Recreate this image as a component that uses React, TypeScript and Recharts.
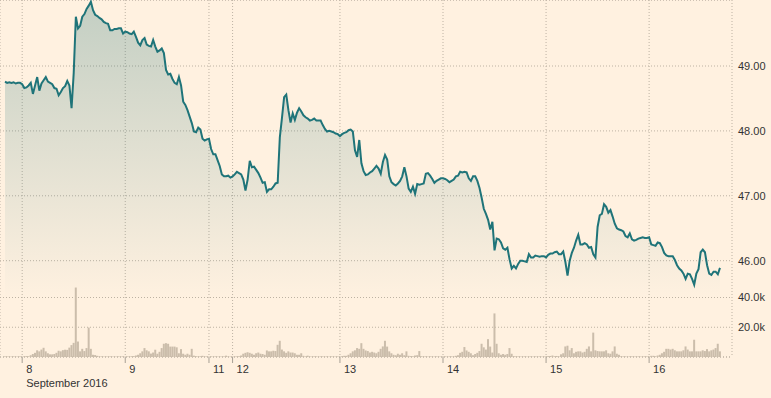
import React from 'react';
import { ComposedChart, Area, Bar, XAxis, YAxis, CartesianGrid, ReferenceLine } from 'recharts';

// half-hour bars, 7 Sep evening -> 16 Sep
const prices = [
  48.76, 48.74, 48.75, 48.74, 48.75, 48.73, 48.74, 48.74, 48.72, 48.66,
  48.67, 48.70, 48.74, 48.57, 48.70, 48.83, 48.62, 48.73, 48.78, 48.83,
  48.76, 48.74, 48.72, 48.66, 48.65, 48.55, 48.60, 48.66, 48.69, 48.77,
  48.70, 48.35, 48.89, 49.76, 49.58, 49.62, 49.76, 49.80, 49.88, 49.93,
  49.99, 49.86, 49.79, 49.77, 49.74, 49.72, 49.68, 49.66, 49.65, 49.55,
  49.55, 49.57, 49.57, 49.58, 49.58, 49.50, 49.53, 49.52, 49.50, 49.49,
  49.53, 49.45, 49.36, 49.32, 49.40, 49.43, 49.33, 49.31, 49.30, 49.40,
  49.30, 49.22, 49.24, 49.27, 49.20, 48.94, 48.87, 48.88, 48.80, 48.74,
  48.72, 48.83, 48.70, 48.45, 48.40, 48.32, 48.22, 48.12, 47.99, 47.98,
  48.05, 48.02, 47.88, 47.85, 47.87, 47.88, 47.72, 47.64, 47.64, 47.55,
  47.46, 47.33, 47.30, 47.30, 47.31, 47.28, 47.30, 47.33, 47.37, 47.35,
  47.33, 47.25, 47.08, 47.25, 47.54, 47.44, 47.45, 47.40, 47.35, 47.28,
  47.20, 47.21, 47.06, 47.10, 47.10, 47.14, 47.19, 47.20, 47.90, 48.20,
  48.52, 48.56, 48.32, 48.13, 48.27, 48.17, 48.28, 48.35, 48.30, 48.24,
  48.21, 48.19, 48.16, 48.17, 48.19, 48.16, 48.16, 48.16, 48.09, 48.03,
  47.99, 48.00, 47.99, 47.98, 47.96, 47.95, 47.92, 47.95, 47.97, 47.98,
  48.01, 48.02, 47.99, 47.70, 47.60, 47.86, 47.50, 47.38, 47.32, 47.33,
  47.36, 47.38, 47.42, 47.46, 47.42, 47.34, 47.52, 47.63, 47.56, 47.30,
  47.21, 47.18, 47.16, 47.19, 47.23, 47.30, 47.44, 47.30, 47.11, 47.06,
  47.14, 47.03, 47.18, 47.17, 47.18, 47.19, 47.34, 47.35, 47.31, 47.26,
  47.20, 47.23, 47.25, 47.27, 47.27, 47.26, 47.24, 47.21, 47.23, 47.25,
  47.30, 47.31, 47.37, 47.36, 47.37, 47.36, 47.27, 47.23, 47.30, 47.30,
  47.23, 47.12, 46.97, 46.80, 46.72, 46.63, 46.48, 46.60, 46.16, 46.34,
  46.33, 46.28, 46.19, 46.17, 46.20, 46.02, 45.88, 45.92, 45.88, 45.95,
  46.00, 46.00, 45.99, 45.98, 46.10, 46.05, 46.05, 46.08, 46.07, 46.06,
  46.07, 46.07, 46.05, 46.09, 46.11, 46.11, 46.13, 46.14, 46.10, 46.10,
  46.14, 45.98, 45.77, 46.00, 46.12, 46.20, 46.31, 46.40, 46.25, 46.25,
  46.27, 46.25, 46.20, 46.21, 46.10, 46.05, 46.52, 46.70, 46.72, 46.87,
  46.83, 46.74, 46.78, 46.68, 46.57, 46.50, 46.48, 46.47, 46.45, 46.38,
  46.36, 46.42, 46.33, 46.31, 46.32, 46.34, 46.35, 46.36, 46.35, 46.35,
  46.36, 46.25, 46.24, 46.23, 46.28, 46.27, 46.21, 46.12, 46.08, 46.07,
  46.07, 46.07, 46.01, 45.93, 45.88, 45.85, 45.80, 45.72, 45.80, 45.79,
  45.72, 45.63, 45.80, 45.87, 46.13, 46.17, 46.13, 45.93, 45.80, 45.78,
  45.83, 45.83, 45.79, 45.89,
];

const volumes = [
  400, 300, 400, 300, 400, 400, 300, 400, 300, 500,
  600, 500, 1200, 2000, 2800, 4500, 3800, 5000, 6200, 3800,
  2500, 1800, 1800, 2000, 2800, 4200, 3800, 4600, 4900, 4800,
  6300, 8000, 9500, 46700, 10400, 3800, 5500, 4000, 6000, 19800,
  5500, 1500, 1300, 800, 400, 400, 300, 400, 300, 400,
  300, 400, 300, 400, 300, 400, 300, 400, 400, 500,
  600, 1000, 1500, 2500, 3800, 6000, 4500, 3800, 2300, 3000,
  4900, 2200, 3500, 6000, 8900, 9300, 8900, 7000, 7000, 7000,
  6500, 2500, 5300, 2200, 1500, 2200, 1500, 5500, 900, 500,
  400, 500, 800, 400, 400, 300, 400, 300, 400, 300,
  400, 300, 400, 900, 400, 300, 400, 400, 400, 500,
  1000, 2200, 2800, 3200, 2800, 2200, 1500, 2500, 3000, 2200,
  2000, 1500, 4400, 3800, 3800, 4200, 4000, 8200, 10900, 5000,
  3800, 2800, 3800, 3000, 3000, 2500, 1500, 1500, 2500, 800,
  400, 900, 400, 300, 400, 400, 300, 400, 400, 300,
  400, 300, 400, 400, 300, 400, 400, 500, 800, 800,
  1500, 2500, 3800, 4500, 6000, 5500, 9300, 5500, 4400, 4000,
  3000, 3500, 3000, 2500, 3500, 5500, 7100, 10900, 7000, 3800,
  2500, 1500, 1200, 2200, 1500, 2500, 1200, 3800, 800, 600,
  500, 1000, 1200, 4000, 500, 400, 400, 300, 400, 400,
  300, 400, 400, 300, 400, 400, 300, 400, 400, 400,
  800, 1200, 2800, 3500, 6700, 4400, 3500, 2500, 1200, 2000,
  2800, 4000, 8900, 6500, 5000, 12000, 7000, 3000, 29300, 8900,
  2500, 1500, 2000, 1500, 2000, 6000, 2200, 600, 400, 400,
  300, 400, 400, 300, 400, 400, 300, 400, 400, 400,
  300, 400, 400, 600, 700, 1000, 500, 700, 400, 1800,
  2500, 7100, 7600, 4500, 6000, 2500, 3500, 3800, 3800, 3000,
  3500, 5500, 7100, 3800, 16400, 4500, 4000, 3800, 3800, 3800,
  4500, 2500, 2200, 3800, 7100, 2200, 1500, 500, 400, 400,
  300, 400, 400, 300, 400, 400, 300, 400, 400, 400,
  400, 800, 800, 500, 1000, 1500, 2500, 3500, 5500, 5500,
  5000, 5500, 4500, 3800, 3800, 3800, 4500, 7100, 5000, 3800,
  3800, 11600, 3800, 3800, 3800, 4500, 4000, 5300, 3800, 4500,
  5000, 6000, 8900, 3800,
];

// bar index where each day starts
const dayTicks = [8, 56, 95, 106, 156, 204, 252, 300];
const dayLabels = ['8', '9', '11', '12', '13', '14', '15', '16'];
const monthLabel = 'September 2016';

const priceTicks = [46, 47, 48, 49];
const volumeTicks = [20000, 40000];

const data = prices.map((price, i) => ({ i, price, vol: volumes[i] }));

const BG = '#fff1e0';
const LINE = '#1f7479';
const GRID = '#bdb2a3';
const TEXT = '#333333';
const FONT = '"Liberation Sans", Arial, sans-serif';

const DayTick = (props: any) => {
  const { x, y, payload, index } = props;
  const label = dayLabels[dayTicks.indexOf(payload.value)];
  return (
    <g>
      <text x={x + 4} y={y + 8} fill={TEXT} fontSize={11} fontFamily={FONT}>
        {label}
      </text>
      {index === 0 && (
        <text x={x + 4} y={y + 22} fill={TEXT} fontSize={11} fontFamily={FONT}>
          {monthLabel}
        </text>
      )}
    </g>
  );
};

const fmtVol = (v: number) => (v / 1000).toFixed(1) + 'k';

export default function App() {
  return (
    <div style={{ position: 'absolute', left: 0, top: 0, width: 771, height: 398, background: BG }}>
      <ComposedChart
        width={771}
        height={398}
        data={data}
        margin={{ top: 0, right: 0, bottom: 0, left: 0 }}
      >
        <defs>
          <linearGradient id="priceFill" gradientUnits="userSpaceOnUse" x1="0" y1="0" x2="0" y2="300">
            <stop offset="0%" stopColor="#1a6e73" stopOpacity={0.44} />
            <stop offset="100%" stopColor="#1a6e73" stopOpacity={0} />
          </linearGradient>
        </defs>
        <CartesianGrid yAxisId="price" stroke={GRID} strokeDasharray="1 2" />
        <CartesianGrid yAxisId="vol" vertical={false} stroke={GRID} strokeDasharray="1 2" />
        <XAxis
          dataKey="i"
          type="number"
          domain={[-2.33, 338.6]}
          allowDataOverflow
          ticks={dayTicks}
          interval={0}
          height={41}
          axisLine={false}
          tickLine={{ stroke: '#a79f94' }}
          tickSize={6}
          tick={<DayTick />}
        />
        <YAxis yAxisId="vol" hide domain={[0, 240000]} allowDataOverflow ticks={volumeTicks} />
        <YAxis
          yAxisId="price"
          orientation="right"
          width={39}
          domain={[44.516, 50.017]}
          allowDataOverflow
          ticks={priceTicks}
          tickFormatter={(v: number) => v.toFixed(2)}
          axisLine={false}
          tickLine={false}
          tickSize={0}
          tickMargin={6}
          tick={{ fill: TEXT, fontSize: 11, fontFamily: FONT }}
        />
        {volumeTicks.map((v) => (
          <ReferenceLine
            key={v}
            yAxisId="vol"
            y={v}
            stroke="none"
            label={{ value: fmtVol(v), position: 'right', offset: 6, fill: TEXT, fontSize: 11, fontFamily: FONT }}
          />
        ))}
        <Bar yAxisId="vol" dataKey="vol" fill="#cbbdab" barSize={2} isAnimationActive={false} />
        <Area
          yAxisId="price"
          type="linear"
          dataKey="price"
          stroke={LINE}
          strokeWidth={2}
          fill="url(#priceFill)"
          dot={false}
          activeDot={false}
          isAnimationActive={false}
        />
      </ComposedChart>
    </div>
  );
}
